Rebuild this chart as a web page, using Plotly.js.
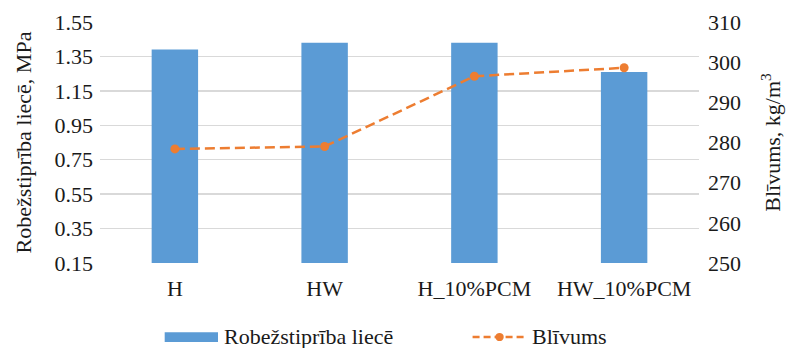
<!DOCTYPE html>
<html>
<head>
<meta charset="utf-8">
<script src="https://cdn.plot.ly/plotly-3.0.1.min.js"></script>
<style>
  html, body { margin: 0; padding: 0; background: #fff; }
  #chart { width: 791px; height: 348px; }
</style>
</head>
<body>
<div id="chart"></div>
<script>
// Sample groups
const categories = ['H', 'HW', 'H_10%PCM', 'HW_10%PCM'];
// Flexural strength, MPa
const strength = [1.39, 1.43, 1.43, 1.26];
// Density, kg/m3
const density = [278.4, 279.0, 296.5, 298.6];

const strengthName = 'Robežstiprība liecē';
const densityName = 'Blīvums';

const blue = '#5B9BD5';
const orange = '#ED7D31';
const font = 'Liberation Serif, serif';
const textFont = { family: font, size: 22, color: '#1a1a1a' };

const traces = [
  {
    type: 'bar',
    x: categories,
    y: strength,
    name: strengthName,
    marker: { color: blue },
    showlegend: false,
    hoverinfo: 'x+y'
  },
  {
    type: 'scatter',
    mode: 'lines+markers',
    x: categories,
    y: density,
    yaxis: 'y2',
    name: densityName,
    line: { color: orange, width: 2.5, dash: '10px,5px' },
    marker: { color: orange, size: 9 },
    showlegend: false,
    hoverinfo: 'x+y'
  }
];

const layout = {
  width: 791,
  height: 348,
  margin: { l: 100, r: 92, t: 22, b: 85 },
  paper_bgcolor: '#fff',
  plot_bgcolor: '#fff',
  font: textFont,
  bargap: 0.69,
  xaxis: {
    type: 'category',
    showgrid: false,
    zeroline: false,
    showline: false,
    ticks: '',
    ticklabelstandoff: 10,
    tickfont: textFont
  },
  yaxis: {
    range: [0.15, 1.55],
    tick0: 0.15,
    dtick: 0.2,
    tickformat: '.2f',
    showgrid: true,
    gridcolor: '#D9D9D9',
    gridwidth: 1.5,
    zeroline: false,
    showline: false,
    ticks: '',
    ticklabelstandoff: 6,
    tickfont: textFont,
    title: { text: 'Robežstiprība liecē, MPa', font: textFont, standoff: 16 }
  },
  yaxis2: {
    overlaying: 'y',
    side: 'right',
    range: [250, 310],
    tick0: 250,
    dtick: 10,
    showgrid: false,
    zeroline: false,
    showline: false,
    ticks: '',
    ticklabelstandoff: 8,
    tickfont: textFont,
    title: { text: 'Blīvums, kg/m<sup>3</sup>', font: textFont, standoff: 24 }
  },
  shapes: [
    // legend key: bar
    { type: 'rect', xref: 'paper', yref: 'paper', x0: 0.108, x1: 0.197, y0: -0.328, y1: -0.287,
      fillcolor: blue, line: { width: 0 } },
    // legend key: dashed line
    { type: 'line', xref: 'paper', yref: 'paper', x0: 0.622, x1: 0.712, y0: -0.307, y1: -0.307,
      line: { color: orange, width: 2.5, dash: '7px,4px' } },
    { type: 'circle', xref: 'paper', yref: 'paper', x0: 0.660, x1: 0.674, y0: -0.324, y1: -0.290,
      fillcolor: orange, line: { width: 0 } }
  ],
  annotations: [
    { xref: 'paper', yref: 'paper', x: 0.203, y: -0.307, xanchor: 'left', yanchor: 'middle',
      text: strengthName, showarrow: false, font: textFont },
    { xref: 'paper', yref: 'paper', x: 0.718, y: -0.307, xanchor: 'left', yanchor: 'middle',
      text: densityName, showarrow: false, font: textFont }
  ]
};

Plotly.newPlot('chart', traces, layout, { displayModeBar: false, staticPlot: true });
</script>
</body>
</html>
